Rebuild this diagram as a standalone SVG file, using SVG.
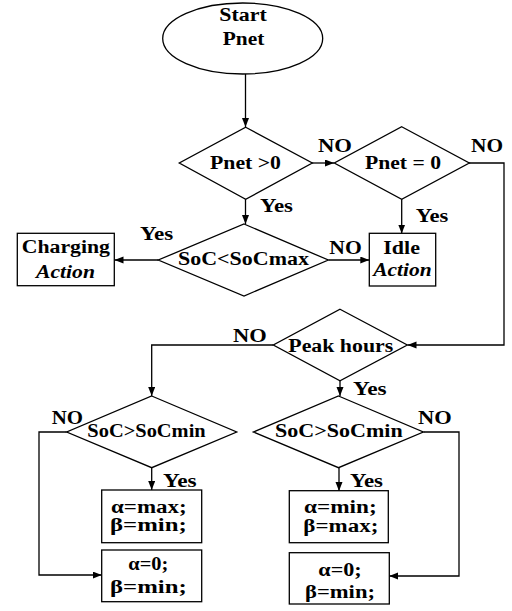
<svg xmlns="http://www.w3.org/2000/svg" width="512" height="611" viewBox="0 0 512 611">
<style>
.s{fill:#fff;stroke:#000;stroke-width:1.3}
.c{fill:none;stroke:#000;stroke-width:1.3}
text{font-family:"Liberation Serif","Times New Roman",serif;font-weight:bold;font-size:18px;fill:#000}
.i{font-style:italic}
</style>
<defs>
<marker id="a" markerUnits="userSpaceOnUse" markerWidth="10" markerHeight="8" refX="9" refY="3.5" orient="auto">
<path d="M0,0 L9,3.5 L0,7 z" fill="#000"/>
</marker>
</defs>
<rect width="512" height="611" fill="#fff"/>
<g id="connectors">
<path class="c" d="M245.5,74 V127" marker-end="url(#a)"/>
<path class="c" d="M312,163 H334" marker-end="url(#a)"/>
<path class="c" d="M469,163 H504 V345 H407.5" marker-end="url(#a)"/>
<path class="c" d="M245.5,199 V224" marker-end="url(#a)"/>
<path class="c" d="M401.7,199 V233.5" marker-end="url(#a)"/>
<path class="c" d="M158.5,260 H114.5" marker-end="url(#a)"/>
<path class="c" d="M328.5,260 H369.3" marker-end="url(#a)"/>
<path class="c" d="M273.3,345 H151.7 V396" marker-end="url(#a)"/>
<path class="c" d="M340,381 V396" marker-end="url(#a)"/>
<path class="c" d="M66.7,432 H39 V575 H101.7" marker-end="url(#a)"/>
<path class="c" d="M151.7,468 V490" marker-end="url(#a)"/>
<path class="c" d="M423.5,432 H459 V576 H389.3" marker-end="url(#a)"/>
<path class="c" d="M339,468 V491" marker-end="url(#a)"/>
</g>
<g id="start">
<ellipse class="s" cx="242.7" cy="38.5" rx="80" ry="35.5"/>
<text x="219.3" y="21" textLength="47.4" lengthAdjust="spacingAndGlyphs">Start</text>
<text x="222.7" y="45" textLength="41.6" lengthAdjust="spacingAndGlyphs">Pnet</text>
</g>
<g id="d1">
<polygon class="s" points="245.7,127.3 312.3,163 245.7,199.3 179.3,163"/>
<text x="210" y="169.3" textLength="71" lengthAdjust="spacingAndGlyphs">Pnet &gt;0</text>
</g>
<g id="d2">
<polygon class="s" points="401.7,126.7 469.3,163 401.7,199.3 334.3,163"/>
<text x="365" y="169.3" textLength="76" lengthAdjust="spacingAndGlyphs">Pnet = 0</text>
</g>
<g id="d3">
<polygon class="s" points="244,224 328.3,260 244,296 158.3,260"/>
<text x="178" y="265" textLength="131" lengthAdjust="spacingAndGlyphs">SoC&lt;SoCmax</text>
</g>
<g id="charging">
<rect class="s" x="17.3" y="233.3" width="97" height="52.4"/>
<text x="21.7" y="253.3" textLength="88.3" lengthAdjust="spacingAndGlyphs">Charging</text>
<text class="i" x="36" y="277.7" textLength="59" lengthAdjust="spacingAndGlyphs">Action</text>
</g>
<g id="idle">
<rect class="s" x="369.3" y="233.3" width="66.4" height="52.7"/>
<text x="383.3" y="254" textLength="36.7" lengthAdjust="spacingAndGlyphs">Idle</text>
<text class="i" x="373.3" y="276" textLength="58.4" lengthAdjust="spacingAndGlyphs">Action</text>
</g>
<g id="peak">
<polygon class="s" points="340,309.3 407.3,345 340,380.7 273.3,345"/>
<text x="288.3" y="351.7" textLength="105" lengthAdjust="spacingAndGlyphs">Peak hours</text>
</g>
<g id="d4">
<polygon class="s" points="151.7,396 236.7,432 151.7,467.7 66.7,432"/>
<text x="87.3" y="437.3" textLength="118.4" lengthAdjust="spacingAndGlyphs">SoC&gt;SoCmin</text>
</g>
<g id="d5">
<polygon class="s" points="338.5,396 423.3,432 338.5,467.7 253.3,432"/>
<text x="275" y="437" textLength="127.7" lengthAdjust="spacingAndGlyphs">SoC&gt;SoCmin</text>
</g>
<g id="b1">
<rect class="s" x="101.7" y="490" width="100" height="52.7"/>
<text x="111" y="513" textLength="75.7" lengthAdjust="spacingAndGlyphs">α=max;</text>
<text x="110" y="531" textLength="76.7" lengthAdjust="spacingAndGlyphs">β=min;</text>
</g>
<g id="b2">
<rect class="s" x="101.7" y="550" width="100" height="51.7"/>
<text x="128.3" y="570" textLength="40" lengthAdjust="spacingAndGlyphs">α=0;</text>
<text x="110" y="593" textLength="76.7" lengthAdjust="spacingAndGlyphs">β=min;</text>
</g>
<g id="b3">
<rect class="s" x="289.3" y="490.7" width="99" height="52"/>
<text x="304" y="513.3" textLength="72.7" lengthAdjust="spacingAndGlyphs">α=min;</text>
<text x="303.3" y="531.5" textLength="75" lengthAdjust="spacingAndGlyphs">β=max;</text>
</g>
<g id="b4">
<rect class="s" x="289.3" y="552.7" width="100" height="51.3"/>
<text x="318.3" y="576" textLength="43.4" lengthAdjust="spacingAndGlyphs">α=0;</text>
<text x="305" y="598" textLength="70" lengthAdjust="spacingAndGlyphs">β=min;</text>
</g>
<g id="labels">
<text x="318" y="152.3" textLength="34" lengthAdjust="spacingAndGlyphs">NO</text>
<text x="471" y="152.3" textLength="32" lengthAdjust="spacingAndGlyphs">NO</text>
<text x="260" y="211.7" textLength="33" lengthAdjust="spacingAndGlyphs">Yes</text>
<text x="415.7" y="221.7" textLength="32.6" lengthAdjust="spacingAndGlyphs">Yes</text>
<text x="140" y="240" textLength="33.3" lengthAdjust="spacingAndGlyphs">Yes</text>
<text x="329.3" y="254.3" textLength="32.4" lengthAdjust="spacingAndGlyphs">NO</text>
<text x="233" y="341.7" textLength="33.7" lengthAdjust="spacingAndGlyphs">NO</text>
<text x="353" y="395" textLength="33.7" lengthAdjust="spacingAndGlyphs">Yes</text>
<text x="51.7" y="424" textLength="31.3" lengthAdjust="spacingAndGlyphs">NO</text>
<text x="418" y="424" textLength="33.7" lengthAdjust="spacingAndGlyphs">NO</text>
<text x="163" y="487.3" textLength="33.7" lengthAdjust="spacingAndGlyphs">Yes</text>
<text x="350" y="487" textLength="33" lengthAdjust="spacingAndGlyphs">Yes</text>
</g>
</svg>
